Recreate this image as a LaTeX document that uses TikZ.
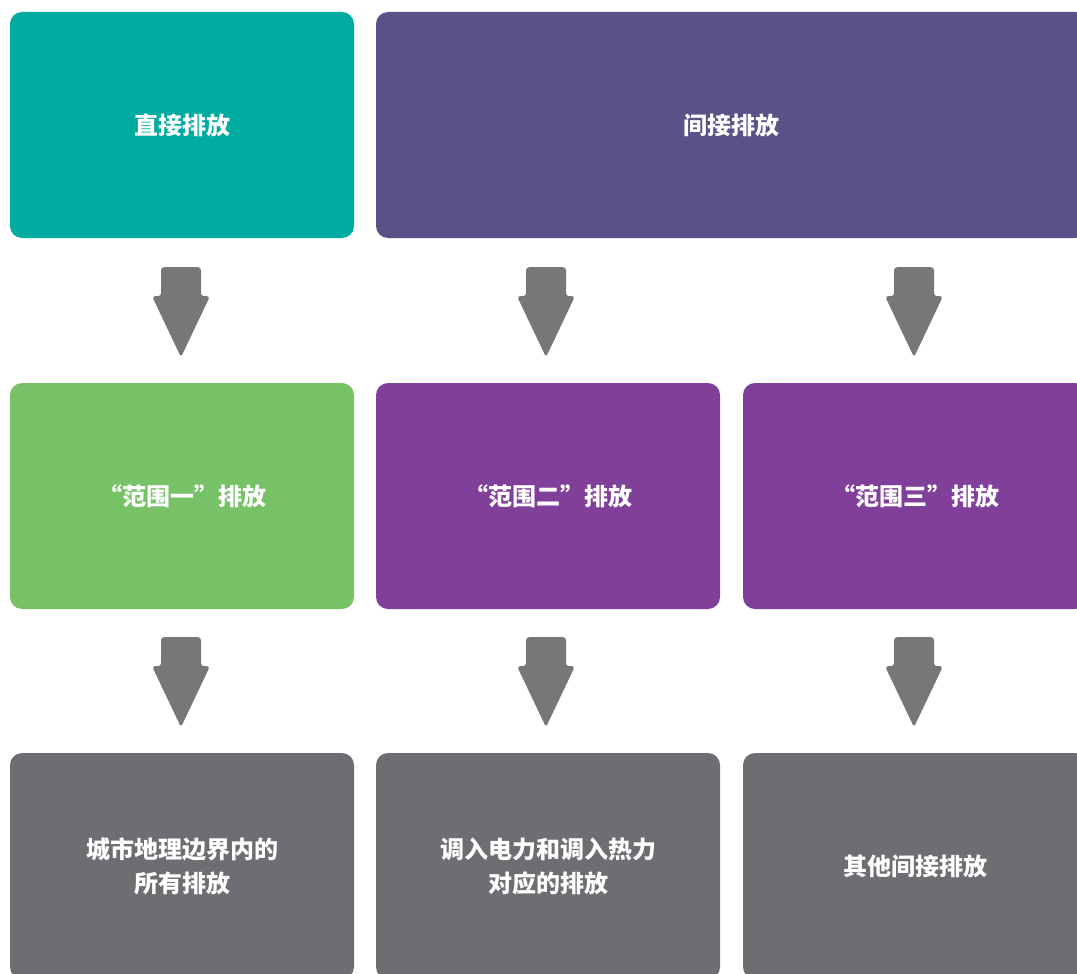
\documentclass[tikz,border=0pt]{standalone}
\usepackage{fontspec}
\setmainfont{Noto Sans CJK SC}
\usetikzlibrary{calc}
\definecolor{cteal}{HTML}{00ABA0}
\definecolor{cindigo}{HTML}{5B5088}
\definecolor{cgreen}{HTML}{77C167}
\definecolor{cpurple}{HTML}{803F98}
\definecolor{cgrey}{HTML}{6D6E72}
\definecolor{carrow}{HTML}{777777}
\newcommand\dnarrow[1]{%
  \fill[arrowfill] ($(#1)+(-20,0)$) -- ($(#1)+(20,0)$) -- ($(#1)+(20,29)$) -- ($(#1)+(29,29)$)
    -- ($(#1)+(0,90)$) -- ($(#1)+(-29,29)$) -- ($(#1)+(-20,29)$) -- cycle;}
\begin{document}
\begin{tikzpicture}[x=1pt,y=-1pt,
  box/.style={rounded corners=12pt, minimum width=344pt, minimum height=226pt,
    inner sep=0pt, text=white, align=center,
    font=\fontsize{24}{34}\selectfont\bfseries},
  arrowfill/.style={fill=carrow, rounded corners=3pt}]
\useasboundingbox (0,0) rectangle (1077,974);
\clip (0,0) rectangle (1077,974);
\node[box, fill=cteal] (a) at (182,125) {直接排放};
\node[box, fill=cindigo, minimum width=711pt] (b) at (731.5,125) {间接排放};
\node[box, fill=cgreen] (m1) at (182,496) {“范围一”排放};
\node[box, fill=cpurple] (m2) at (548,496) {“范围二”排放};
\node[box, fill=cpurple] (m3) at (915,496) {“范围三”排放};
\node[box, fill=cgrey] (l1) at (182,866) {城市地理边界内的\\所有排放};
\node[box, fill=cgrey] (l2) at (548,866) {调入电力和调入热力\\对应的排放};
\node[box, fill=cgrey] (l3) at (915,866) {其他间接排放};
\coordinate (t1) at ($(a.south)+(-1,29)$);
\coordinate (t2) at ($(b.south -| m2.north)+(-2,29)$);
\coordinate (t3) at ($(b.south -| m3.north)+(-1,29)$);
\coordinate (u1) at ($(m1.south)+(-1,28)$);
\coordinate (u2) at ($(m2.south)+(-2,28)$);
\coordinate (u3) at ($(m3.south)+(-1,28)$);
\dnarrow{t1}\dnarrow{t2}\dnarrow{t3}
\dnarrow{u1}\dnarrow{u2}\dnarrow{u3}
\end{tikzpicture}
\end{document}
